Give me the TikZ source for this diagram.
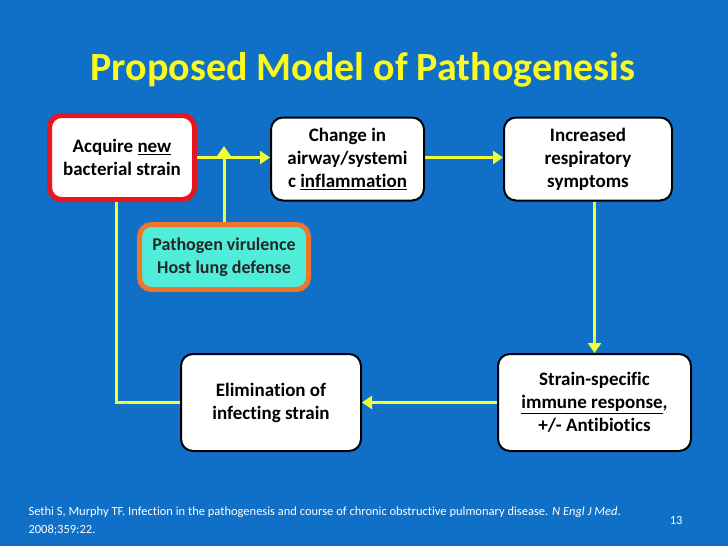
\documentclass[tikz,border=0pt]{standalone}
\usepackage{fontspec}
\setmainfont{Carlito}[Ligatures=NoCommon]
\usepackage{xcolor}
\usetikzlibrary{arrows.meta}
\definecolor{slideblue}{RGB}{16,111,198}
\definecolor{arrowyellow}{RGB}{240,255,60}
\definecolor{titleyellow}{RGB}{250,250,30}
\definecolor{boxred}{RGB}{232,20,30}
\definecolor{boxorange}{RGB}{236,118,44}
\definecolor{boxcyan}{RGB}{80,238,218}

\begin{document}
\begin{tikzpicture}[x=1pt,y=-1pt,
  stage/.style={draw=black, line width=2pt, fill=white, rounded corners=12pt,
    align=center, font=\bfseries\fontsize{19}{23}\selectfont, inner sep=0pt},
  flow/.style={draw=arrowyellow, line width=3pt, -{Triangle[length=10pt,width=13pt]}},
  plainflow/.style={draw=arrowyellow, line width=3pt}]
\useasboundingbox (0,0) rectangle (728,546);
\fill [slideblue] (0,0) rectangle (728,546);
\node [titleyellow, font=\bfseries\fontsize{40}{44}\selectfont] (title) at (363,70) {Proposed Model of Pathogenesis};

\node [stage, draw=boxred, line width=5pt, minimum width=145pt, minimum height=84pt] (acquire) at (122,157.5) {Acquire \underline{new}\\bacterial strain};
\node [stage, minimum width=153pt, minimum height=83pt] (change) at (347.5,159) {Change in\\airway/systemi\\c \underline{inflammation}};
\node [stage, minimum width=168pt, minimum height=83pt] (increased) at (588,159) {Increased\\respiratory\\symptoms};
\node [stage, draw=boxorange, fill=boxcyan, text=black!85, line width=5pt, minimum width=169pt, minimum height=65pt, font=\bfseries\fontsize{18}{23}\selectfont] (virulence) at (224,257) {Pathogen virulence\\Host lung defense};
\node [stage, minimum width=180pt, minimum height=97pt] (elimination) at (271,402.5) {Elimination of\\infecting strain};
\node [stage, minimum width=193pt, minimum height=97pt] (immune) at (594.5,402.5) {Strain-specific\\\underline{immune response},\\+/- Antibiotics};

\coordinate (virtip) at (224,146);
\coordinate (loopcorner) at (116,402.5);

\draw [flow] (acquire.east |- 0,157.5) -- (change.west |- 0,157.5);
\draw [flow] (change.east |- 0,157.5) -- (increased.west |- 0,157.5);
\draw [flow] (virulence.north) -- (virtip);
\draw [flow] (increased.south -| immune.north) -- (immune.north);
\draw [flow] (immune) -- (elimination);
\draw [plainflow] (elimination.west) -- (loopcorner) -- (loopcorner |- acquire.south);

\node [white, anchor=base west, align=left, font=\fontsize{12.5}{18}\selectfont] (citation) at (25,533) {Sethi S, Murphy TF. Infection in the pathogenesis and course of chronic obstructive pulmonary disease. \textit{N Engl J Med}.\\2008;359:22.};
\node [white, anchor=base east, font=\fontsize{12.5}{14}\selectfont] (pagenum) at (686,524) {13};
\end{tikzpicture}
\end{document}
